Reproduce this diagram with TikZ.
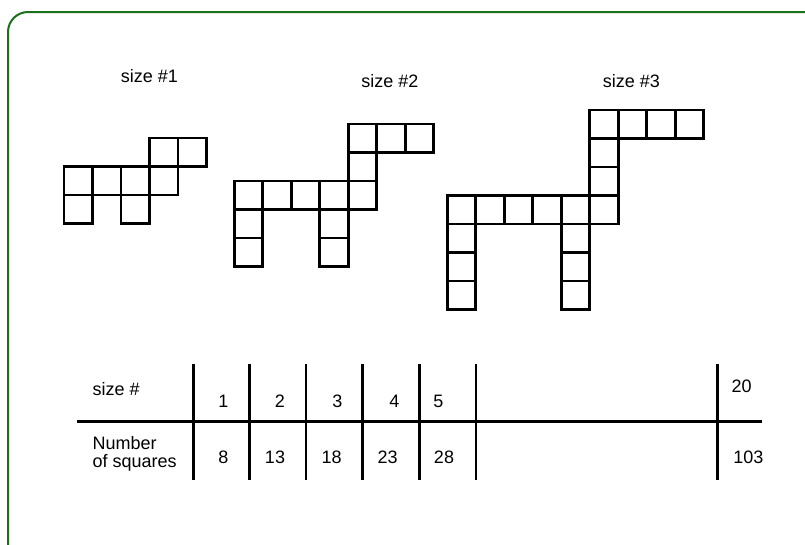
\documentclass[tikz,border=0pt]{standalone}
\usepackage{fontspec}
\setmainfont{Liberation Sans}
\usetikzlibrary{positioning}
\definecolor{framegreen}{RGB}{28,112,28}

\begin{document}
\begin{tikzpicture}[
  x=1pt,y=-1pt,
  cell/.style={draw=black,line width=2.8pt},
  rule/.style={draw=black,line width=2.8pt},
  lbl/.style={font=\fontsize{18}{18.5}\selectfont,inner sep=0pt}
]
\clip (0,0) rectangle (805,544);
\fill[white] (0,0) rectangle (805,544);
\draw[framegreen,line width=2pt,rounded corners=20pt] (8,12) rectangle (830,570);

% size #1
\node[lbl] (t1) at (149.5,76) {size \#1};
\begin{scope}[shift={(64,138)}]
  \foreach \c/\r in {3/0,4/0,0/1,1/1,2/1,3/1,0/2,2/2}
    \draw[cell] (\c*28.5,\r*28.5) rectangle ++(28.5,28.5);
\end{scope}

% size #2
\node[lbl] (t2) at (390,81.5) {size \#2};
\begin{scope}[shift={(234.3,124)}]
  \foreach \c/\r in {4/0,5/0,6/0,4/1,0/2,1/2,2/2,3/2,4/2,0/3,3/3,0/4,3/4}
    \draw[cell] (\c*28.5,\r*28.5) rectangle ++(28.5,28.5);
\end{scope}

% size #3
\node[lbl] (t3) at (631.5,81.5) {size \#3};
\begin{scope}[shift={(447.3,110)}]
  \foreach \c/\r in {5/0,6/0,7/0,8/0,5/1,5/2,0/3,1/3,2/3,3/3,4/3,5/3,
                     0/4,4/4,0/5,4/5,0/6,4/6}
    \draw[cell] (\c*28.5,\r*28.5) rectangle ++(28.5,28.5);
\end{scope}

% table
\draw[rule] (77,421.5) -- (762,421.5);
\foreach \x in {193.3,249.3,306,362.7,419.3,476,717.3}
  \draw[rule] (\x,364) -- (\x,480);

\node[lbl,anchor=west] (hsize) at (92.5,389) {size \#};
\node[lbl,anchor=west,align=left] (hnum) at (92.5,454) {Number\\of squares};

\node[lbl] (s1) at (223.3,401.5) {1};
\node[lbl] (s2) at (280,401.5) {2};
\node[lbl] (s3) at (337.3,401.5) {3};
\node[lbl] (s4) at (394.3,401.5) {4};
\node[lbl] (s5) at (438.3,401.5) {5};
\node[lbl] (s20) at (741.7,386.5) {20};

\node[lbl] (n1) at (223.3,457.3) {8};
\node[lbl] (n2) at (275,457.3) {13};
\node[lbl] (n3) at (331.7,457.3) {18};
\node[lbl] (n4) at (387.7,457.3) {23};
\node[lbl] (n5) at (444,457.3) {28};
\node[lbl] (n20) at (748.3,457.3) {103};
\end{tikzpicture}
\end{document}
